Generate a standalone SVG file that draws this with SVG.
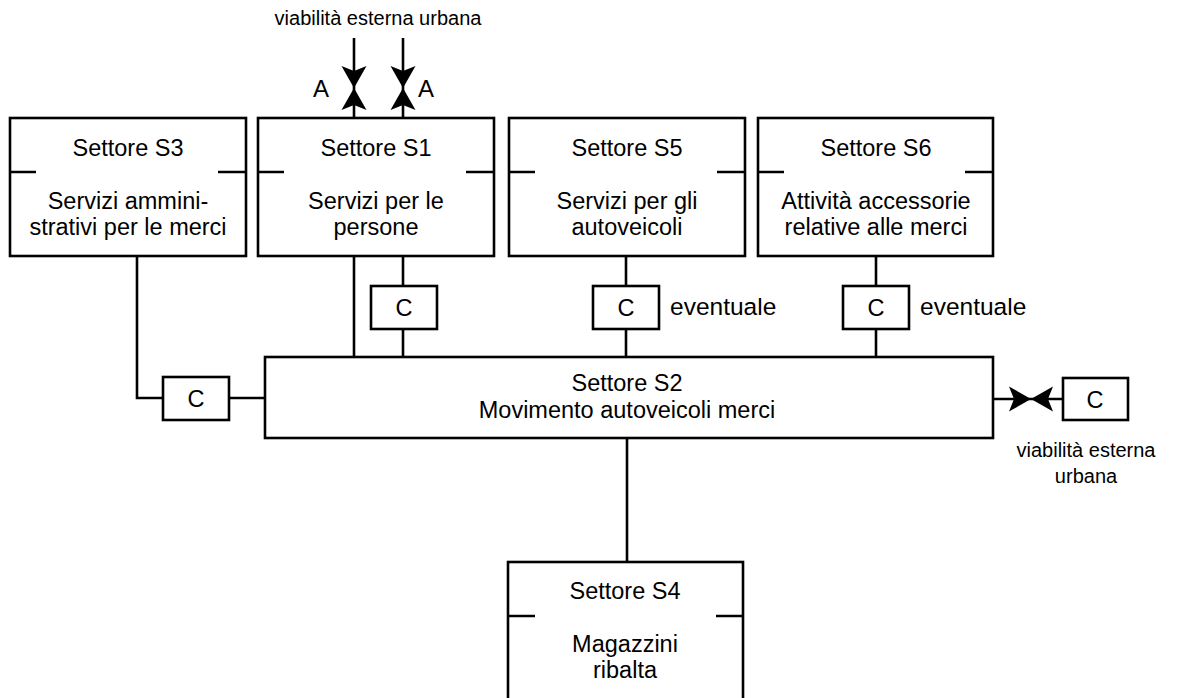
<svg xmlns="http://www.w3.org/2000/svg" xmlns:xlink="http://www.w3.org/1999/xlink" width="1198" height="698" viewBox="0 0 1198 698">
<defs>
<style>
.b{fill:#fff;stroke:#000;stroke-width:2.6}
.l{fill:none;stroke:#000;stroke-width:2.6}
.h{fill:#000;stroke:none}
text{font-family:"Liberation Sans",Arial,sans-serif;fill:#000;font-size:23.5px;text-anchor:middle}
.s{font-size:20px}
.a{font-size:24px}
.st{text-anchor:start;font-size:24.5px}
</style>
<path id="ah" class="h" d="M0,0 L-22,-12.5 L-17,0 L-22,12.5 Z"/>
</defs>
<rect width="1198" height="698" fill="#fff"/>

<g id="connectors">
<line class="l" x1="354" y1="38" x2="354" y2="118"/>
<line class="l" x1="403" y1="38" x2="403" y2="118"/>
<use xlink:href="#ah" href="#ah" transform="translate(354,88) rotate(90)"/>
<use xlink:href="#ah" href="#ah" transform="translate(354,88) rotate(-90)"/>
<use xlink:href="#ah" href="#ah" transform="translate(403,88) rotate(90)"/>
<use xlink:href="#ah" href="#ah" transform="translate(403,88) rotate(-90)"/>
<line class="l" x1="354" y1="256" x2="354" y2="357"/>
<line class="l" x1="403" y1="256" x2="403" y2="286"/>
<line class="l" x1="403" y1="329" x2="403" y2="357"/>
<line class="l" x1="626" y1="256" x2="626" y2="286"/>
<line class="l" x1="626" y1="329" x2="626" y2="357"/>
<line class="l" x1="876" y1="256" x2="876" y2="286"/>
<line class="l" x1="876" y1="329" x2="876" y2="357"/>
<polyline class="l" points="137,256 137,398 163,398"/>
<line class="l" x1="229" y1="398" x2="265" y2="398"/>
<line class="l" x1="993" y1="399" x2="1063" y2="399"/>
<use xlink:href="#ah" href="#ah" transform="translate(1031,399)"/>
<use xlink:href="#ah" href="#ah" transform="translate(1031,399) rotate(180)"/>
<line class="l" x1="627" y1="438" x2="627" y2="562"/>
</g>

<text class="s" x="378" y="25">viabilità esterna urbana</text>
<text class="a" x="321" y="97">A</text>
<text class="a" x="426" y="97">A</text>

<g id="S3">
<rect class="b" x="10" y="118" width="236" height="138"/>
<path class="l" d="M10,172 h26 M218,172 h28"/>
<text x="128" y="156">Settore S3</text>
<text x="128" y="209">Servizi ammini-</text>
<text x="128" y="235">strativi per le merci</text>
</g>

<g id="S1">
<rect class="b" x="258" y="118" width="236" height="138"/>
<path class="l" d="M258,172 h26 M466,172 h28"/>
<text x="376" y="156">Settore S1</text>
<text x="376" y="209">Servizi per le</text>
<text x="376" y="235">persone</text>
</g>

<g id="S5">
<rect class="b" x="509" y="118" width="236" height="138"/>
<path class="l" d="M509,172 h26 M717,172 h28"/>
<text x="627" y="156">Settore S5</text>
<text x="627" y="209">Servizi per gli</text>
<text x="627" y="235">autoveicoli</text>
</g>

<g id="S6">
<rect class="b" x="758" y="118" width="235" height="138"/>
<path class="l" d="M758,172 h26 M965,172 h28"/>
<text x="876" y="156">Settore S6</text>
<text x="876" y="209">Attività accessorie</text>
<text x="876" y="235">relative alle merci</text>
</g>

<g id="C1">
<rect class="b" x="371" y="286" width="66" height="43"/>
<text x="404" y="316">C</text>
</g>
<g id="C5">
<rect class="b" x="593" y="286" width="66" height="43"/>
<text x="626" y="316">C</text>
</g>
<text class="st" x="670" y="315">eventuale</text>
<g id="C6">
<rect class="b" x="843" y="286" width="66" height="43"/>
<text x="876" y="316">C</text>
</g>
<text class="st" x="920" y="315">eventuale</text>

<g id="S2">
<rect class="b" x="265" y="357" width="728" height="81"/>
<text x="627" y="391">Settore S2</text>
<text x="627" y="418">Movimento autoveicoli merci</text>
</g>

<g id="C3">
<rect class="b" x="163" y="377" width="66" height="43"/>
<text x="196" y="407">C</text>
</g>

<g id="Cext">
<rect class="b" x="1063" y="378" width="65" height="42"/>
<text x="1095" y="408">C</text>
</g>
<text class="s" x="1086" y="457">viabilità esterna</text>
<text class="s" x="1086" y="483">urbana</text>

<g id="S4">
<rect class="b" x="508" y="562" width="235" height="150"/>
<path class="l" d="M508,616 h27 M716,616 h27"/>
<text x="625" y="599">Settore S4</text>
<text x="625" y="652">Magazzini</text>
<text x="625" y="678">ribalta</text>
</g>
</svg>
